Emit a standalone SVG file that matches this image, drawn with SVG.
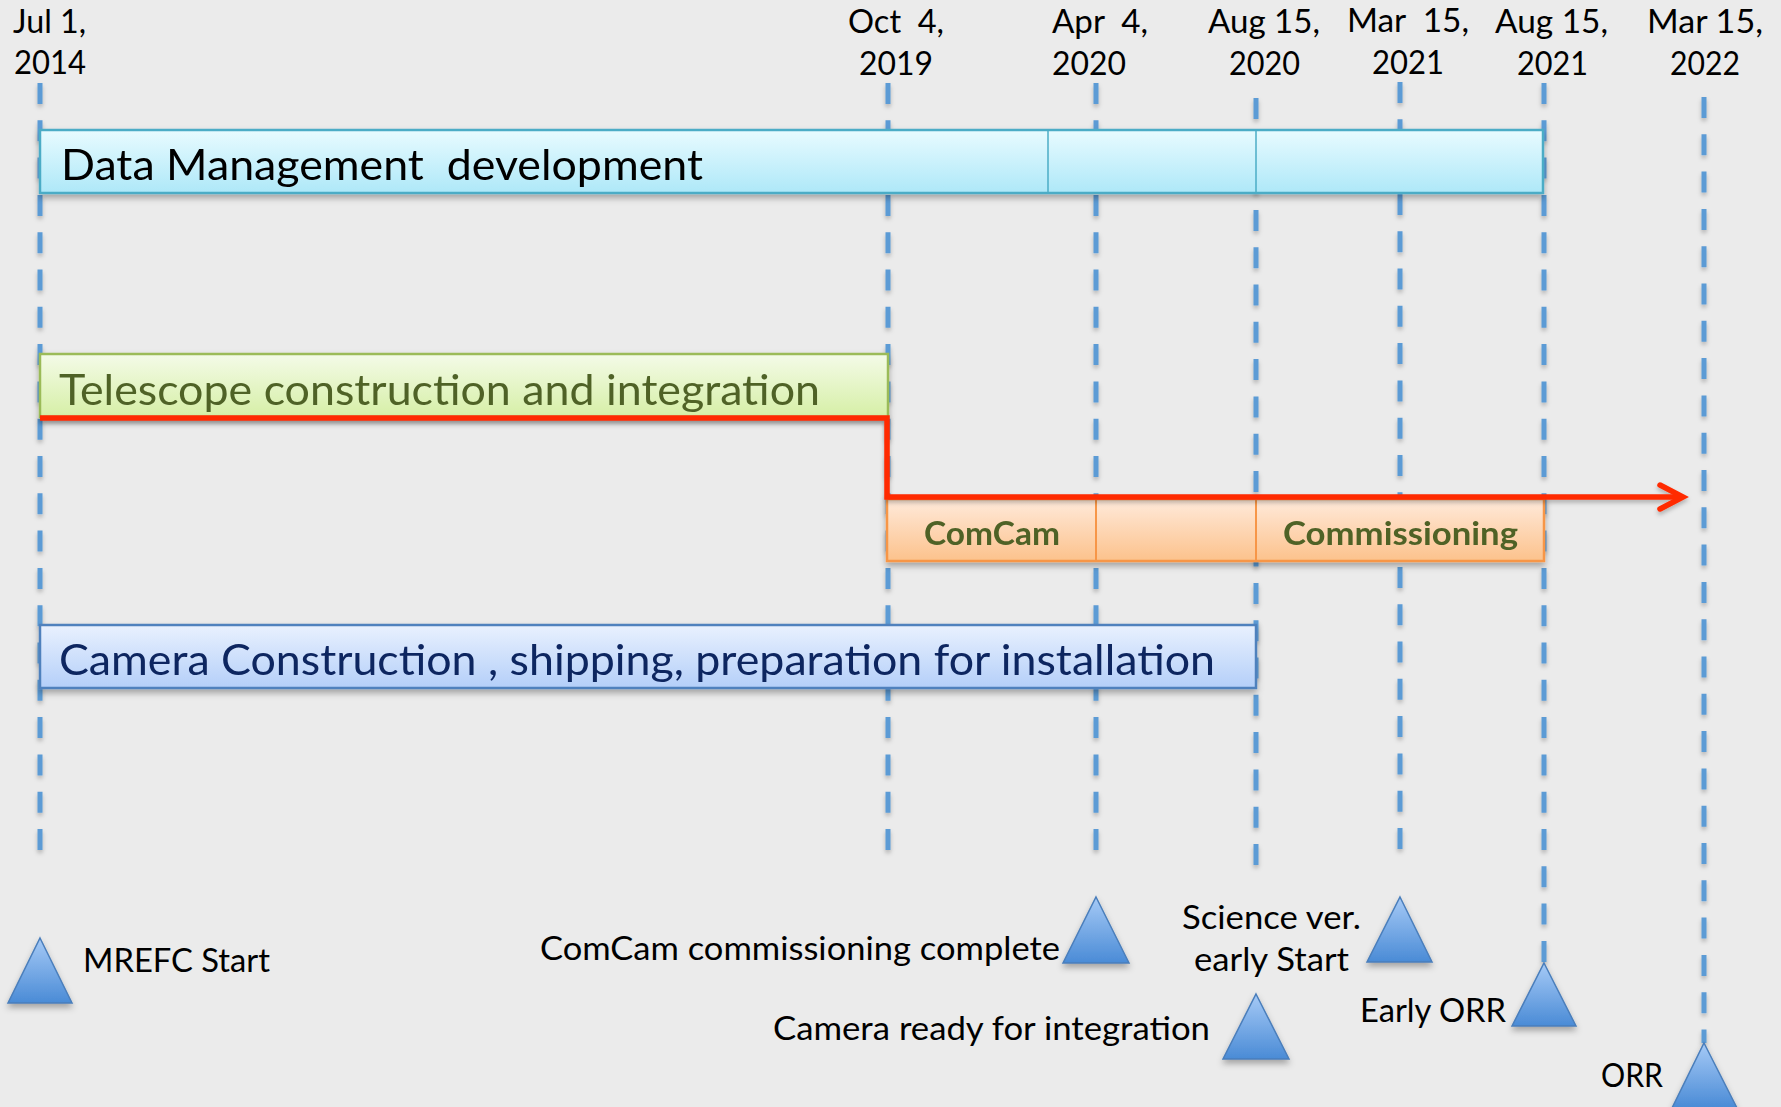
<svg xmlns="http://www.w3.org/2000/svg" width="1781" height="1107" viewBox="0 0 1781 1107">
  <style>
    text { font-family: Lato, "Open Sans", "Liberation Sans", sans-serif; white-space: pre; }
    .date { font-size: 33px; fill: #000; }
    .ms { font-size: 33px; fill: #000; }
    .bar-label { font-size: 43px; }
    .phase { font-size: 33px; font-weight: bold; fill: #4f6228; }
    .grid { stroke: #5b9bd5; stroke-width: 5; stroke-dasharray: 21 16.3; fill: none; }
    .tri { fill: url(#gTri); stroke: #4a7ebb; stroke-width: 1.5; filter: url(#shadow); }
  </style>
  <defs>
    <linearGradient id="gDM" x1="0" y1="0" x2="0" y2="1">
      <stop offset="0" stop-color="#e8fbff"/>
      <stop offset="1" stop-color="#aee8f8"/>
    </linearGradient>
    <linearGradient id="gTel" x1="0" y1="0" x2="0" y2="1">
      <stop offset="0" stop-color="#f4fbe8"/>
      <stop offset="1" stop-color="#d6efa6"/>
    </linearGradient>
    <linearGradient id="gCom" x1="0" y1="0" x2="0" y2="1">
      <stop offset="0" stop-color="#ffeadb"/>
      <stop offset="1" stop-color="#fcc28c"/>
    </linearGradient>
    <linearGradient id="gCam" x1="0" y1="0" x2="0" y2="1">
      <stop offset="0" stop-color="#e9f1fe"/>
      <stop offset="1" stop-color="#b4cff9"/>
    </linearGradient>
    <linearGradient id="gTri" x1="0" y1="0" x2="0" y2="1">
      <stop offset="0" stop-color="#a6caf6"/>
      <stop offset="1" stop-color="#4a8bd6"/>
    </linearGradient>
    <filter id="shadow" x="-10%" y="-20%" width="120%" height="160%">
      <feDropShadow dx="0" dy="4" stdDeviation="3" flood-color="#000" flood-opacity="0.3"/>
    </filter>
    <filter id="lineShadow" filterUnits="userSpaceOnUse" x="0" y="0" width="1781" height="1107">
      <feDropShadow dx="0" dy="3" stdDeviation="2" flood-color="#000" flood-opacity="0.25"/>
    </filter>
    <marker id="arrow" markerUnits="userSpaceOnUse" markerWidth="40" markerHeight="40" refX="30" refY="20" orient="auto" overflow="visible">
      <path d="M7,8 L30,20 L7,32" fill="none" stroke="#ff2a00" stroke-width="5.5" stroke-linecap="round"/>
    </marker>
  </defs>

  <rect width="1781" height="1107" fill="#ebebeb"/>

  <g id="date-labels">
    <text class="date" x="13" y="33" textLength="73" lengthAdjust="spacingAndGlyphs">Jul 1,</text>
    <text class="date" x="14" y="74" textLength="72" lengthAdjust="spacingAndGlyphs">2014</text>
    <text class="date" x="848" y="33" textLength="96" lengthAdjust="spacingAndGlyphs">Oct  4,</text>
    <text class="date" x="859" y="75" textLength="74" lengthAdjust="spacingAndGlyphs">2019</text>
    <text class="date" x="1052" y="33" textLength="96" lengthAdjust="spacingAndGlyphs">Apr  4,</text>
    <text class="date" x="1052" y="75" textLength="74" lengthAdjust="spacingAndGlyphs">2020</text>
    <text class="date" x="1208" y="33" textLength="112" lengthAdjust="spacingAndGlyphs">Aug 15,</text>
    <text class="date" x="1229" y="75" textLength="71" lengthAdjust="spacingAndGlyphs">2020</text>
    <text class="date" x="1347" y="32" textLength="122" lengthAdjust="spacingAndGlyphs">Mar  15,</text>
    <text class="date" x="1372" y="74" textLength="72" lengthAdjust="spacingAndGlyphs">2021</text>
    <text class="date" x="1495" y="33" textLength="113" lengthAdjust="spacingAndGlyphs">Aug 15,</text>
    <text class="date" x="1517" y="75" textLength="71" lengthAdjust="spacingAndGlyphs">2021</text>
    <text class="date" x="1647" y="33" textLength="116" lengthAdjust="spacingAndGlyphs">Mar 15,</text>
    <text class="date" x="1670" y="75" textLength="70" lengthAdjust="spacingAndGlyphs">2022</text>
  </g>

  <g id="gridlines" filter="url(#lineShadow)">
    <line class="grid" x1="40" y1="83" x2="40" y2="850"/>
    <line class="grid" x1="888" y1="83" x2="888" y2="850"/>
    <line class="grid" x1="1096" y1="83" x2="1096" y2="850"/>
    <line class="grid" x1="1256" y1="98" x2="1256" y2="867"/>
    <line class="grid" x1="1400" y1="82" x2="1400" y2="850"/>
    <line class="grid" x1="1544" y1="83" x2="1544" y2="963"/>
    <line class="grid" x1="1704" y1="97" x2="1704" y2="1043"/>
  </g>

  <g id="bar-data-management" filter="url(#shadow)">
    <rect x="40" y="130" width="1503" height="63" fill="url(#gDM)" stroke="#4bacc6" stroke-width="2.5"/>
    <line x1="1048" y1="130" x2="1048" y2="193" stroke="#4bacc6" stroke-width="1.5"/>
    <line x1="1256" y1="130" x2="1256" y2="193" stroke="#4bacc6" stroke-width="1.5"/>
    <text class="bar-label" x="61" y="180" fill="#000" textLength="642" lengthAdjust="spacingAndGlyphs">Data Management  development</text>
  </g>

  <g id="bar-telescope" filter="url(#shadow)">
    <rect x="40" y="354" width="848" height="63" fill="url(#gTel)" stroke="#9bbb59" stroke-width="2.5"/>
    <text class="bar-label" x="59" y="405" fill="#4f6228" textLength="761" lengthAdjust="spacingAndGlyphs">Telescope construction and integration</text>
  </g>

  <g id="bar-commissioning" filter="url(#shadow)">
    <rect x="887" y="499" width="657" height="62" fill="url(#gCom)" stroke="#f79646" stroke-width="2.5"/>
    <line x1="1096" y1="499" x2="1096" y2="561" stroke="#f79646" stroke-width="2"/>
    <line x1="1256" y1="499" x2="1256" y2="561" stroke="#f79646" stroke-width="2"/>
    <text class="phase" x="924" y="545" textLength="136" lengthAdjust="spacingAndGlyphs">ComCam</text>
    <text class="phase" x="1283" y="545" textLength="235" lengthAdjust="spacingAndGlyphs">Commissioning</text>
  </g>

  <g id="bar-camera" filter="url(#shadow)">
    <rect x="40" y="625" width="1216" height="63" fill="url(#gCam)" stroke="#4f81bd" stroke-width="2.5"/>
    <text class="bar-label" x="59" y="675" fill="#0f2660" textLength="1156" lengthAdjust="spacingAndGlyphs">Camera Construction , shipping, preparation for installation</text>
  </g>

  <g id="connectors" filter="url(#lineShadow)">
    <path d="M40,418 H887 V497 H1683" fill="none" stroke="#ff2a00" stroke-width="5.5" stroke-linejoin="miter" marker-end="url(#arrow)"/>
  </g>

  <g id="ms-mrefc-start">
    <polygon class="tri" points="40,938 72,1003 8,1003"/>
    <text class="ms" x="83" y="972" textLength="187" lengthAdjust="spacingAndGlyphs">MREFC Start</text>
  </g>
  <g id="ms-comcam-complete">
    <polygon class="tri" points="1096,897 1129,963 1063,963"/>
    <text class="ms" x="540" y="960" textLength="520" lengthAdjust="spacingAndGlyphs">ComCam commissioning complete</text>
  </g>
  <g id="ms-camera-ready">
    <polygon class="tri" points="1256,994 1289,1059 1223,1059"/>
    <text class="ms" x="773" y="1040" textLength="437" lengthAdjust="spacingAndGlyphs">Camera ready for integration</text>
  </g>
  <g id="ms-science-ver">
    <polygon class="tri" points="1400,897 1432,962 1367,962"/>
    <text class="ms" x="1182" y="929" textLength="179" lengthAdjust="spacingAndGlyphs">Science ver.</text>
    <text class="ms" x="1194" y="971" textLength="155" lengthAdjust="spacingAndGlyphs">early Start</text>
  </g>
  <g id="ms-early-orr">
    <polygon class="tri" points="1544,963 1576,1026 1512,1026"/>
    <text class="ms" x="1360" y="1022" textLength="146" lengthAdjust="spacingAndGlyphs">Early ORR</text>
  </g>
  <g id="ms-orr">
    <polygon class="tri" points="1704,1043 1737,1108 1672,1108"/>
    <text class="ms" x="1601" y="1087" textLength="62" lengthAdjust="spacingAndGlyphs">ORR</text>
  </g>
</svg>
